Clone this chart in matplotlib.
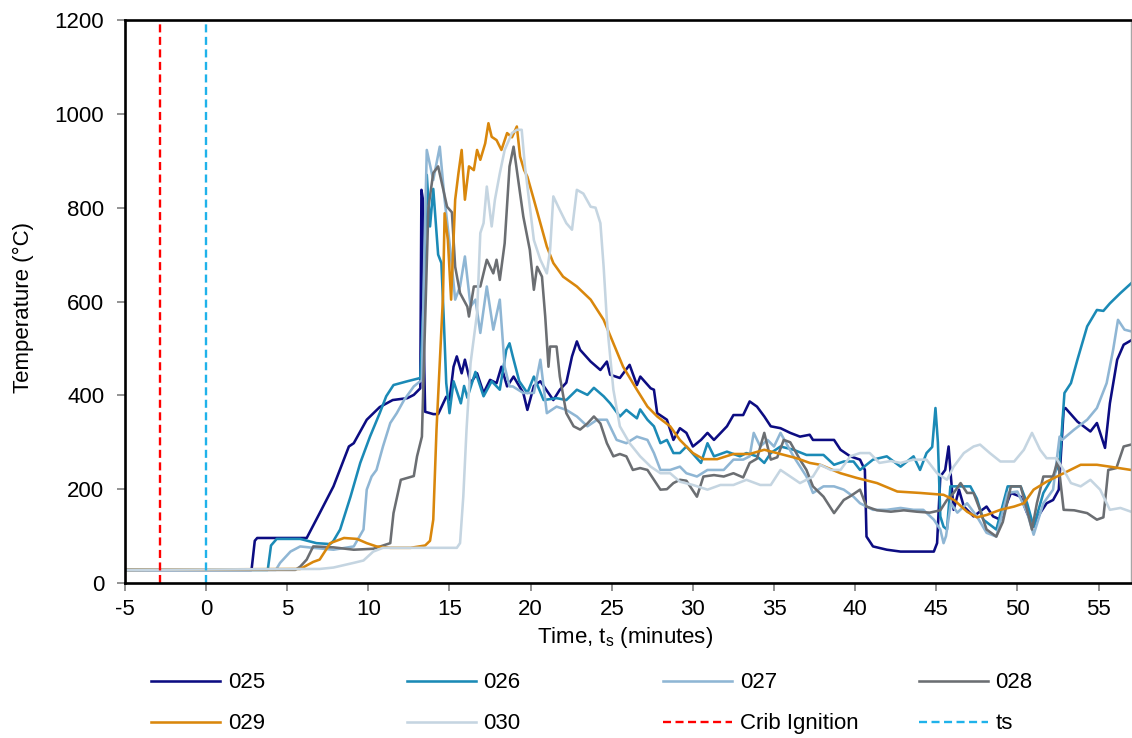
import matplotlib
matplotlib.use("Agg")
from matplotlib import pyplot as plt

plt.rcParams['font.family'] = ['Liberation Sans', 'DejaVu Sans']
plt.rcParams['mathtext.fontset'] = 'custom'
plt.rcParams['mathtext.rm'] = 'Liberation Sans'
plt.rcParams['axes.unicode_minus'] = False

# time (minutes) and temperature (deg C)
t_025 = [-5, 2.8, 3.0, 3.15, 6.2, 7.0, 7.85, 8.8, 9.1, 9.9, 10.7, 11.5, 12.4, 12.8, 13.2, 13.27, 13.35, 13.42, 13.5,
         14.0, 14.3, 14.8, 15.0, 15.25, 15.45, 15.75, 15.95, 16.3, 16.7, 17.1, 17.5, 17.9, 18.2, 18.55, 18.95, 19.55,
         19.8, 20.2, 20.6, 21.0, 21.4, 21.8, 22.2, 22.55, 22.85, 23.05, 23.7, 24.3, 24.7, 24.9, 25.5, 26.1, 26.55,
         26.76, 27.4, 27.6, 27.8, 28.4, 28.8, 29.2, 29.6, 30.0, 30.5, 30.9, 31.3, 32.1, 32.5, 33.1, 33.5, 33.95, 34.4,
         34.8, 35.4, 36.0, 36.6, 37.2, 37.4, 38.7, 39.1, 39.7, 40.3, 40.6, 40.7, 41.1, 41.95, 42.8, 43.6, 44.85, 45.05,
         45.25, 45.55, 45.76, 45.87, 46.07, 46.4, 46.7, 47.3, 48.1, 48.5, 48.95, 49.6, 50.2, 50.6, 51.0, 51.4, 51.8,
         52.2, 52.55, 52.85, 52.96, 53.7, 54.5, 54.9, 55.1, 55.4, 55.7, 56.15, 56.55, 57.05]
T_025 = [28, 28, 90, 96, 96, 149, 206, 291, 298, 348, 375, 390, 394, 401, 415, 838, 820, 500, 365,
         360, 360, 397, 390, 461, 483, 447, 476, 426, 447, 405, 433, 426, 461, 419, 440, 405,
         369, 420, 430, 410, 390, 412, 427, 483, 515, 497, 472, 454, 472, 444, 437, 465, 422,
         440, 415, 412, 362, 348, 305, 330, 320, 291, 305, 320, 305, 334, 358, 358, 387, 376, 355,
         334, 330, 320, 312, 316, 305, 305, 284, 270, 263, 241, 99, 78, 71, 67, 67, 67, 85,
         227, 241, 291, 240, 156, 199, 163, 142, 163, 142, 135, 192, 184, 149, 120, 149, 170,
         177, 199, 369, 373, 344, 323, 341, 320, 288, 383, 476, 508, 518]

t_026 = [-5, 3.8, 4.0, 4.35, 5.8, 6.8, 7.65, 7.85, 8.26, 8.9, 9.5, 10.1, 10.7, 11.1, 11.55, 12.4, 13.2, 13.4, 13.6,
         13.8, 14.0, 14.3, 14.5, 14.65, 14.8, 15.0, 15.25, 15.7, 15.9, 16.1, 16.6, 17.1, 17.6, 18.1, 18.5, 18.7, 18.9,
         19.3, 19.8, 20.2, 20.8, 21.6, 22.2, 22.85, 23.5, 23.9, 24.5, 24.9, 25.5, 25.9, 26.55, 26.75, 27.2, 27.6,
         28.0, 28.4, 28.8, 29.2, 29.6, 30.5, 30.9, 31.3, 32.1, 32.9, 33.3, 33.95, 34.4, 34.8, 35.4, 36.2, 37.0, 38.05,
         38.7, 39.3, 39.9, 40.3, 41.1, 41.95, 42.8, 43.6, 44.0, 44.4, 44.75, 44.95, 45.1, 45.25, 45.45, 45.66, 45.87,
         46.3, 46.7, 47.1, 47.5, 47.9, 48.7, 49.4, 49.8, 50.2, 50.6, 51.0, 51.6, 52.2, 52.6, 52.9, 53.3, 53.7, 54.3,
         54.9, 55.3, 55.7, 56.35, 57.05]
T_026 = [28, 28, 80, 94, 94, 85, 83, 90, 114, 184, 256, 312, 362, 398, 422, 430, 437, 600, 870,
         760, 840, 700, 682, 560, 426, 362, 430, 383, 420, 395, 450, 398, 430, 412, 497, 511, 483,
         430, 405, 440, 390, 394, 390, 412, 401, 416, 398, 383, 355, 369, 351, 370, 348, 334,
         298, 305, 277, 277, 291, 256, 298, 270, 280, 270, 277, 270, 256, 277, 291, 284, 273, 273,
         252, 259, 259, 241, 263, 270, 248, 270, 241, 277, 290, 373, 300, 142, 120, 114, 206,
         206, 206, 206, 180, 135, 114, 206, 206, 206, 170, 120, 192, 227, 256, 405, 426, 476, 547,
         582, 580, 596, 618, 640]

t_027 = [-5, 4.3, 4.56, 5.2, 5.8, 6.6, 7.85, 9.1, 9.7, 9.9, 10.2, 10.5, 10.9, 11.35, 11.75, 12.2, 12.8, 13.3, 13.45,
         13.6, 14.0, 14.4, 14.7, 15.05, 15.35, 15.65, 15.95, 16.3, 16.6, 16.9, 17.3, 17.7, 18.1, 18.4, 18.7, 18.9,
         19.55, 20.2, 20.6, 21.0, 21.6, 22.2, 22.85, 23.5, 24.1, 24.7, 25.3, 25.9, 26.55, 27.2, 27.6, 28.0, 28.6,
         29.2, 29.6, 30.25, 30.9, 31.3, 31.9, 32.5, 33.1, 33.5, 33.75, 34.15, 34.6, 35.0, 35.4, 36.2, 37.0, 37.4,
         38.05, 38.7, 39.3, 39.9, 40.3, 41.1, 41.95, 42.8, 43.6, 44.2, 44.85, 45.25, 45.45, 45.6, 45.9, 46.3, 46.9,
         47.5, 48.1, 48.7, 49.4, 50.0, 50.6, 51.0, 51.6, 52.2, 52.6, 52.75, 53.5, 54.3, 54.9, 55.5, 55.9, 56.2, 56.6,
         57.05]
T_027 = [28, 28, 43, 67, 78, 75, 71, 78, 114, 199, 227, 241, 291, 341, 362, 390, 419, 433, 700,
         923, 859, 930, 817, 710, 604, 632, 696, 589, 604, 533, 632, 540, 604, 461, 419, 419,
         405, 405, 476, 362, 376, 369, 355, 334, 348, 348, 305, 298, 312, 305, 277, 241, 241,
         248, 234, 227, 241, 241, 241, 263, 263, 270, 320, 291, 305, 291, 320, 270, 227, 192,
         206, 206, 199, 184, 170, 156, 156, 160, 156, 156, 135, 114, 85, 100, 170, 150, 170,
         142, 107, 99, 192, 195, 150, 103, 170, 199, 312, 305, 327, 348, 373, 426, 497, 561, 540,
         536]

t_028 = [-5, 5.5, 5.8, 6.2, 6.6, 7.85, 9.1, 10.3, 11.35, 11.55, 12.0, 12.8, 13.0, 13.3, 13.45, 13.7, 14.0, 14.3,
         14.85, 15.15, 15.35, 15.65, 16.1, 16.2, 16.5, 16.9, 17.3, 17.7, 17.9, 18.1, 18.4, 18.7, 18.95, 19.15, 19.55,
         19.95, 20.2, 20.4, 20.7, 20.9, 21.1, 21.2, 21.6, 21.8, 22.2, 22.65, 23.05, 23.5, 23.9, 24.3, 24.7, 25.1,
         25.5, 25.9, 26.3, 26.75, 27.2, 27.6, 28.0, 28.4, 28.8, 29.2, 29.6, 30.25, 30.65, 31.3, 31.9, 32.5, 33.1,
         33.5, 33.95, 34.4, 34.8, 35.2, 35.6, 36.0, 36.6, 37.0, 37.4, 38.05, 38.7, 39.3, 39.7, 40.3, 40.7, 41.35,
         42.2, 43.0, 43.8, 44.6, 45.25, 45.66, 46.07, 46.5, 46.9, 47.3, 47.7, 48.1, 48.7, 49.1, 49.6, 50.2, 50.6,
         50.9, 51.2, 51.6, 52.2, 52.5, 52.85, 53.5, 54.3, 54.9, 55.3, 55.6, 56.1, 56.55, 57.0]
T_028 = [28, 28, 35, 50, 78, 76, 71, 73, 85, 149, 220, 228, 270, 312, 500, 800, 874, 888,
         802, 790, 674, 618, 589, 568, 632, 632, 689, 660, 689, 646, 724, 888, 930, 880, 781,
         710, 625, 674, 653, 568, 461, 504, 504, 440, 362, 334, 327, 340, 355, 340, 298, 270,
         275, 270, 241, 245, 241, 220, 199, 200, 213, 220, 218, 184, 227, 230, 227, 234, 225,
         256, 265, 320, 263, 268, 305, 300, 263, 241, 206, 184, 149, 177, 185, 199, 163, 155,
         152, 155, 152, 150, 155, 177, 192, 213, 192, 192, 155, 114, 99, 130, 206, 206, 155,
         114, 170, 227, 227, 263, 156, 155, 149, 135, 140, 241, 245, 291, 295]

t_029 = [-5, 5.8, 6.6, 7.0, 7.65, 8.5, 9.3, 9.9, 10.5, 11.35, 12.6, 13.5, 13.8, 14.0, 14.2, 14.4, 14.6, 14.7, 14.9,
         15.1, 15.35, 15.55, 15.75, 15.95, 16.2, 16.5, 16.7, 16.9, 17.2, 17.4, 17.6, 17.9, 18.2, 18.55, 18.85, 19.15,
         19.35, 19.6, 19.8, 20.2, 20.6, 21.0, 21.4, 22.0, 22.85, 23.7, 24.5, 25.1, 25.7, 26.55, 27.2, 27.8, 28.6,
         29.2, 30.0, 30.65, 31.5, 32.5, 33.5, 34.4, 35.4, 36.4, 37.2, 37.85, 39.1, 40.1, 41.35, 42.6, 44.0, 45.45,
         46.1, 46.9, 47.5, 48.1, 48.95, 49.8, 50.4, 51.0, 51.8, 52.85, 53.9, 54.9, 55.7, 57.0]
T_029 = [28, 30, 45, 50, 85, 96, 94, 85, 78, 75, 75, 80, 90, 135, 327, 469, 611, 788, 731,
         604, 817, 873, 923, 817, 888, 880, 923, 902, 937, 980, 951, 944, 923, 959, 950, 973,
         909, 880, 866, 817, 767, 717, 682, 653, 632, 604, 561, 511, 461, 412, 376, 355, 334,
         305, 277, 264, 264, 275, 275, 284, 275, 266, 256, 252, 234, 224, 213, 195, 192, 188,
         177, 152, 140, 145, 156, 163, 170, 199, 216, 234, 252, 252, 248, 241]

t_030 = [-5, 7.0, 7.85, 9.1, 9.7, 10.3, 10.9, 11.95, 14.0, 15.45, 15.65, 15.85, 16.05, 16.3, 16.7, 16.9, 17.1, 17.3,
         17.6, 17.8, 18.1, 18.4, 18.85, 19.15, 19.45, 19.65, 19.9, 20.2, 20.6, 21.0, 21.2, 21.4, 21.8, 22.2, 22.55,
         22.85, 23.25, 23.7, 24.0, 24.3, 24.5, 24.7, 24.8, 25.1, 25.5, 26.1, 26.75, 27.4, 28.0, 28.6, 29.2, 30.0,
         30.9, 31.7, 32.5, 33.3, 34.15, 34.8, 35.4, 36.0, 36.6, 37.4, 37.85, 38.5, 39.1, 39.7, 40.3, 40.9, 41.5,
         42.2, 42.8, 43.6, 44.4, 45.05, 45.66, 46.07, 46.7, 47.3, 47.7, 48.3, 48.95, 49.8, 50.4, 50.9, 51.4, 51.8,
         52.4, 52.85, 53.3, 53.9, 54.5, 55.1, 55.7, 56.35, 57.0]
T_030 = [28, 30, 33, 43, 48, 67, 75, 75, 75, 75, 85, 184, 327, 469, 575, 746, 767, 845,
         760, 817, 873, 923, 959, 966, 966, 888, 817, 731, 689, 660, 710, 824, 795, 767, 753,
         838, 830, 802, 800, 767, 674, 560, 520, 412, 334, 298, 270, 248, 234, 234, 216, 209,
         199, 209, 209, 220, 209, 209, 241, 227, 213, 227, 252, 241, 241, 270, 277, 277, 256,
         260, 256, 263, 263, 234, 220, 248, 277, 291, 295, 277, 259, 259, 284, 320, 284, 266,
         266, 241, 213, 206, 220, 199, 156, 160, 152]

series = ['025', '026', '027', '028', '029', '030']
colors = ['#0c0c82', '#1b8ab6', '#8fb6d4', '#6b6e72', '#d9870c', '#c5d5e1']
crib_ignition = -2.85
ts = 0

fig = plt.figure(figsize=(11.32, 7.38), dpi=100)
ax = fig.add_axes([0.1104, 0.21, 0.8887, 0.7629])

data = [(t_025, T_025), (t_026, T_026), (t_027, T_027), (t_028, T_028), (t_029, T_029), (t_030, T_030)]
lines = []
for (t, T), name, c in zip(data, series, colors):
    ln, = ax.plot(t, T, color=c, lw=1.85, label=name, solid_joinstyle='round')
    lines.append(ln)

crib = ax.axvline(crib_ignition, color='#ff0000', lw=1.7, dashes=(3.4, 1.9), label='Crib Ignition')
tsl = ax.axvline(ts, color='#1fb2ea', lw=1.7, dashes=(3.4, 1.9), label='ts')

ax.set_xlim(-5, 57)
ax.set_ylim(0, 1200)
ax.set_xticks(range(-5, 56, 5))
ax.set_yticks(range(0, 1201, 200))
ax.tick_params(axis='both', labelsize=16, color='#808080', width=1.2)
ax.tick_params(axis='x', length=5.5, pad=6)
ax.tick_params(axis='y', length=6, pad=9)

for side in ['top', 'left', 'bottom']:
    ax.spines[side].set_linewidth(1.9)
    ax.spines[side].set_color('black')
ax.spines['right'].set_linewidth(1.0)
ax.spines['right'].set_color('#a6a6a6')

ax.set_xlabel(r'Time, t$_{\mathregular{s}}$ (minutes)', fontsize=16)
ax.set_ylabel('Temperature (°C)', fontsize=16)
ax.xaxis.set_label_coords(0.497, -0.074)
ax.yaxis.set_label_coords(-0.09, 0.49)

# legend laid out as four columns of two rows
columns = [[lines[0], lines[4]], [lines[1], lines[5]], [lines[2], crib], [lines[3], tsl]]
col_x = [0.1334, 0.3595, 0.5857, 0.8118]
for handles, x in zip(columns, col_x):
    leg = fig.legend(handles=handles, loc='upper left', bbox_to_anchor=(x, 0.089), frameon=False,
                     fontsize=16, handlelength=3.1, handletextpad=0.35, labelspacing=0.9,
                     borderpad=0, borderaxespad=0)

fig.savefig('out.png', dpi=100)
